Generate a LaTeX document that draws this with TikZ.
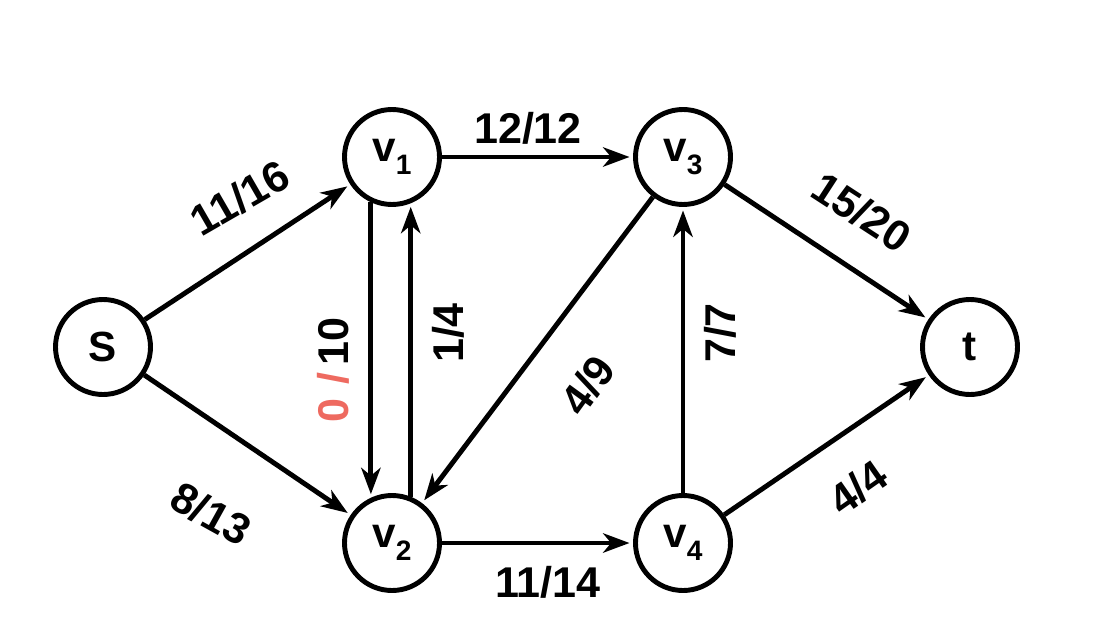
\documentclass[tikz,border=0pt]{standalone}
\usepackage{fontspec}
\setmainfont{Liberation Sans}
\usetikzlibrary{arrows.meta}
\definecolor{pen}{HTML}{EE6A60}
\newcommand{\vsub}[1]{v\raisebox{-0.3em}{\fontsize{16}{16}\selectfont #1}}
\begin{document}
\begin{tikzpicture}[
	vtx/.style={draw, circle, line width=2.8pt, minimum size=1.9cm, inner sep=0pt,
		font=\fontsize{24}{28}\selectfont\bfseries},
	flow/.style={line width=2.8pt, -{Stealth[length=15pt,width=11pt,inset=4.5pt]}, shorten >=2pt},
	lbl/.style={font=\fontsize{24.5}{28}\selectfont\bfseries, inner sep=0pt}]
	\useasboundingbox (0,0) rectangle (22,12.72);
	% vertices
	\node[vtx] (s) at (2.06,5.78) {S};
	\node[vtx] (v1) at (7.84,9.58) {\vsub{1}};
	\node[vtx] (v3) at (13.66,9.58) {\vsub{3}};
	\node[vtx] (t) at (19.40,5.78) {t};
	\node[vtx] (v2) at (7.84,1.86) {\vsub{2}};
	\node[vtx] (v4) at (13.66,1.86) {\vsub{4}};
	% edges
	\draw[flow] (s) -- (v1);
	\draw[flow] (s) -- (v2);
	\draw[flow] (v1) -- (v3);
	\draw[flow] (v1.245) -- (v2.115);
	\draw[flow] (v2.68) -- (v1.292);
	\draw[flow] (v3) -- (v2);
	\draw[flow] (v2) -- (v4);
	\draw[flow] (v4) -- (v3);
	\draw[flow] (v3) -- (t);
	\draw[flow] (v4) -- (t);
	% flow / capacity
	\node[lbl, rotate=30] (f1) at (4.80,8.76) {11/16};
	\node[lbl, rotate=-29] (f2) at (4.22,2.44) {8/13};
	\node[lbl] (f3) at (10.56,10.16) {12/12};
	\node[lbl, rotate=90] (f4) at (6.66,5.32) {{\color{pen}0\,\,/\,}10};
	\node[lbl, rotate=90] (f5) at (8.96,6.06) {1/4};
	\node[lbl, rotate=54] (f6) at (11.76,5.02) {4/9};
	\node[lbl] (f7) at (10.96,1.08) {11/14};
	\node[lbl, rotate=90] (f8) at (14.40,6.06) {7/7};
	\node[lbl, rotate=-33] (f9) at (17.24,8.48) {15/20};
	\node[lbl, rotate=35] (f10) at (17.16,2.96) {4/4};
\end{tikzpicture}
\end{document}
